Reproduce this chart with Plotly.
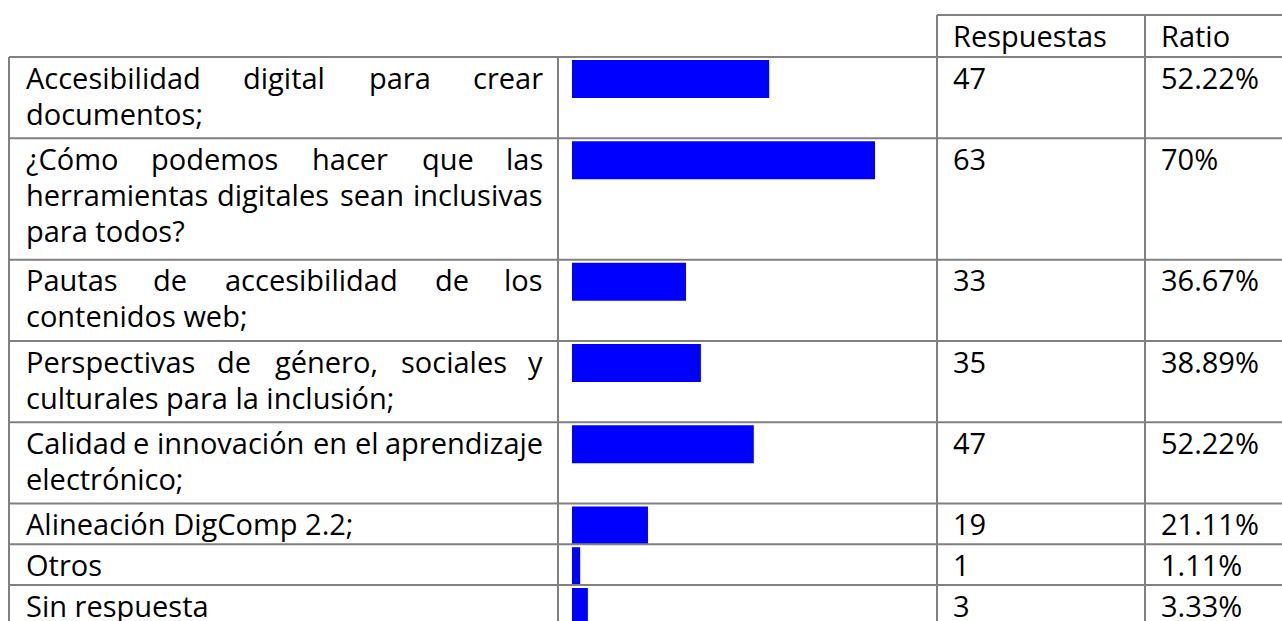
import plotly.graph_objects as go

# ---------------- data ----------------
categories = [
    "Accesibilidad digital para crear|documentos;",
    "¿Cómo podemos hacer que las|herramientas digitales sean inclusivas|para todos?",
    "Pautas de accesibilidad de los|contenidos web;",
    "Perspectivas de género, sociales y|culturales para la inclusión;",
    "Calidad e innovación en el aprendizaje|electrónico;",
    "Alineación DigComp 2.2;",
    "Otros",
    "Sin respuesta",
]
respuestas = [47, 63, 33, 35, 47, 19, 1, 3]
ratio_labels = ["52.22%", "70%", "36.67%", "38.89%", "52.22%", "21.11%", "1.11%", "3.33%"]
# bar lengths as drawn in the picture (same units as Respuestas, longest bar = 63)
bar_lengths = [41.0, 63.0, 23.7, 26.8, 37.8, 15.8, 1.7, 3.3]
header_labels = ["Respuestas", "Ratio"]

# ---------------- layout constants (pixels) ----------------
W, H = 1282, 621
FONT = 29
FAMILY = "Open Sans"
LINE = 36
GRID = "#808080"
X_LEFT, X_BAR, X_RESP, X_RATIO = 9, 558, 937, 1145
TEXT_L, TEXT_R = 24, 545
HEADER_TOP, BODY_TOP = 15, 57
BAR_START = 572
BAR_PX_PER_UNIT = 303 / 63.0

# approximate Open Sans advance widths (em)
EM = {
    " ": 0.26, ",": 0.245, ".": 0.266, ";": 0.266, "?": 0.429, "¿": 0.429, "%": 0.838,
    "A": 0.633, "C": 0.631, "D": 0.722, "O": 0.781, "P": 0.613, "R": 0.631, "S": 0.549,
    "a": 0.556, "b": 0.613, "c": 0.476, "d": 0.613, "e": 0.561, "f": 0.339, "g": 0.548,
    "h": 0.614, "i": 0.253, "j": 0.253, "k": 0.525, "l": 0.253, "m": 0.930, "n": 0.614,
    "o": 0.604, "p": 0.613, "q": 0.613, "r": 0.408, "s": 0.477, "t": 0.353, "u": 0.614,
    "v": 0.501, "w": 0.778, "x": 0.524, "y": 0.502, "z": 0.477, "é": 0.561, "ó": 0.604,
}


def text_w(s):
    return sum(EM.get(ch, 0.572) for ch in s) * FONT


row_lines = [c.split("|") for c in categories]
row_h = [40.4 * len(l) + 0.4 for l in row_lines]
row_top = []
y = BODY_TOP
for h in row_h:
    row_top.append(y)
    y += h
row_bottom = y

fig = go.Figure()

# bars through their own axis
fig.add_trace(go.Bar(
    x=bar_lengths,
    y=[t + 22 for t in row_top],
    width=38,
    orientation="h",
    marker=dict(color="#0000FF", line=dict(width=0)),
    xaxis="x2", yaxis="y",
    hoverinfo="skip",
    showlegend=False,
))

shapes = []


def hline(yv, x0, x1):
    shapes.append(dict(type="line", xref="x", yref="y", x0=x0, x1=x1, y0=yv, y1=yv,
                       line=dict(color=GRID, width=2), layer="above"))


def vline(xv, y0, y1):
    shapes.append(dict(type="line", xref="x", yref="y", x0=xv, x1=xv, y0=y0, y1=y1,
                       line=dict(color=GRID, width=2), layer="above"))


hline(HEADER_TOP, X_RESP, W + 10)
hline(BODY_TOP, X_LEFT, W + 10)
for t, h in zip(row_top, row_h):
    hline(t + h, X_LEFT, W + 10)
vline(X_LEFT, BODY_TOP, row_bottom + 20)
vline(X_BAR, BODY_TOP, row_bottom + 20)
vline(X_RESP, HEADER_TOP, row_bottom + 20)
vline(X_RATIO, HEADER_TOP, row_bottom + 20)

annotations = []


def txt(s, x, baseline, anchor="left"):
    annotations.append(dict(text=s, x=x, y=baseline - 11, xref="x", yref="y",
                            xanchor=anchor, yanchor="middle", showarrow=False,
                            font=dict(family=FAMILY, size=FONT, color="#000000")))


# header
txt(header_labels[0], X_RESP + 14, HEADER_TOP + 31)
txt(header_labels[1], X_RATIO + 14, HEADER_TOP + 31)

for i, lines in enumerate(row_lines):
    top = row_top[i]
    for k, line in enumerate(lines):
        base = top + 31 + LINE * k
        words = line.split(" ")
        last = (k == len(lines) - 1)
        if last or len(words) == 1:
            txt(line, TEXT_L, base)
        else:
            ws = [text_w(wd) for wd in words]
            gap = (TEXT_R - TEXT_L - sum(ws)) / (len(words) - 1)
            xpos = TEXT_L
            for j, (wd, ww) in enumerate(zip(words, ws)):
                if j == 0:
                    txt(wd, TEXT_L, base, "left")
                elif j == len(words) - 1:
                    txt(wd, TEXT_R, base, "right")
                else:
                    txt(wd, xpos + ww / 2, base, "center")
                xpos += ww + gap
    txt(str(respuestas[i]), X_RESP + 14, top + 31)
    txt(ratio_labels[i], X_RATIO + 14, top + 31)

fig.update_layout(
    width=W, height=H,
    margin=dict(l=0, r=0, t=0, b=0),
    paper_bgcolor="white", plot_bgcolor="white",
    xaxis=dict(range=[0, W], visible=False, fixedrange=True),
    yaxis=dict(range=[H, 0], visible=False, fixedrange=True),
    xaxis2=dict(domain=[BAR_START / W, 1], anchor="y",
                range=[0, (W - BAR_START) / BAR_PX_PER_UNIT], visible=False, fixedrange=True),
    shapes=shapes,
    annotations=annotations,
    showlegend=False,
)

fig.write_html("out.html", config={"displayModeBar": False},
               post_script="document.body.style.margin='0';")
